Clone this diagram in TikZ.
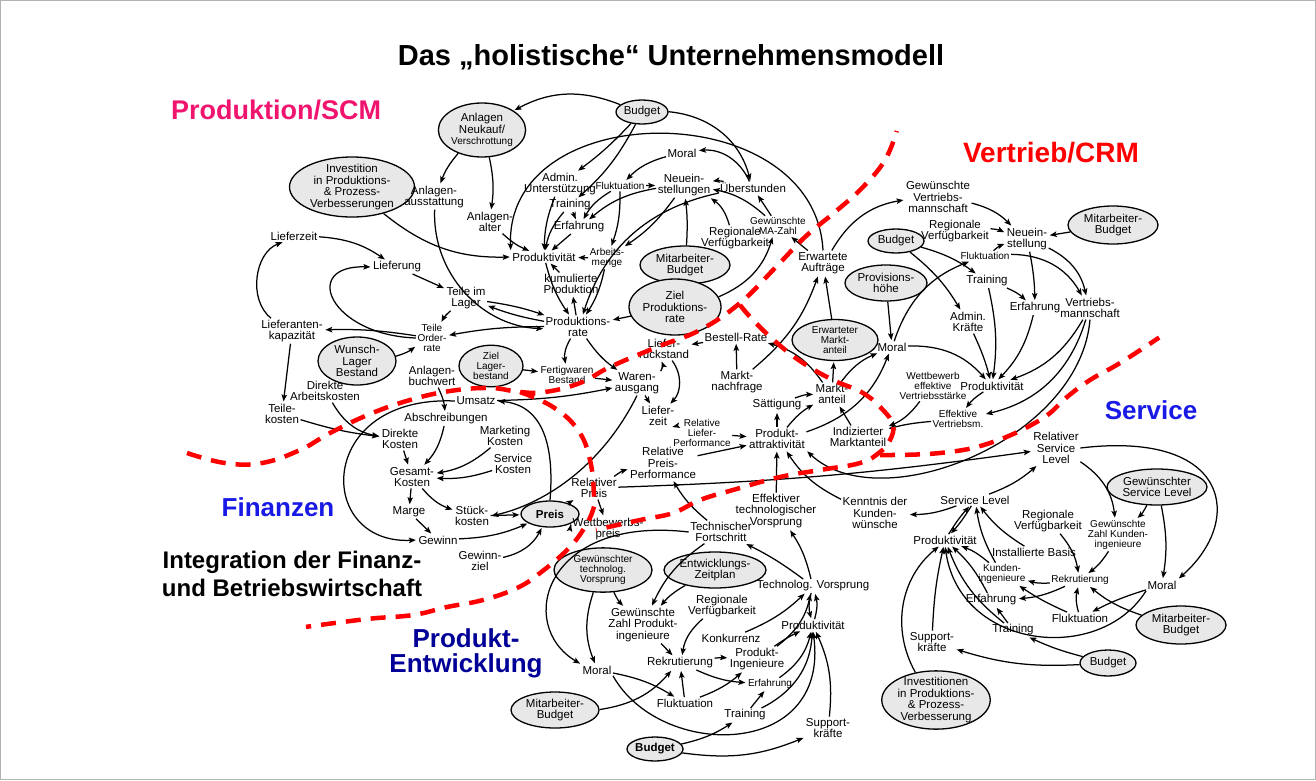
\documentclass[tikz,border=0pt]{standalone}
\usepackage{fontspec}
\setmainfont{Liberation Sans}
\usetikzlibrary{arrows,arrows.meta,shapes.geometric}

\definecolor{prodpink}{RGB}{240,20,110}
\definecolor{vertred}{RGB}{255,0,0}
\definecolor{servblue}{RGB}{25,25,230}
\definecolor{entwblue}{RGB}{0,0,150}

\tikzset{
  var/.style={font=\fontsize{11.5}{11.5}\selectfont, align=center, inner sep=1pt},
  smallvar/.style={var, font=\fontsize{10}{10}\selectfont},
  exo/.style={var, ellipse, draw, fill=black!9, line width=1.3pt, inner xsep=0pt, inner ysep=-2pt},
  area/.style={font=\fontsize{26}{27}\selectfont\bfseries, align=center},
  boundary/.style={vertred, line width=4.5pt, dash pattern=on 15pt off 10pt},
}

\begin{document}
\begin{tikzpicture}[x=1pt, y=-1pt, >={Stealth[length=7pt, width=5.5pt, inset=1.5pt]}, shorten >=1pt, line width=1.25pt]
    \useasboundingbox (0,0) rectangle (1316,780);
    \draw [gray!60, line width=1pt] (0.5,0.5) rectangle (1315.5,779.5);

    % Headings
    \node [font=\fontsize{29}{30}\selectfont\bfseries] (title) at (671,57) {Das „holistische“ Unternehmensmodell};
    \node [area, text=prodpink, font=\fontsize{27}{28}\selectfont\bfseries] (aProd) at (276,110) {Produktion/SCM};
    \node [area, text=vertred, font=\fontsize{28}{29}\selectfont\bfseries]  (aVert) at (1051,153) {Vertrieb/CRM};
    \node [area, text=servblue] (aServ) at (1151,410) {Service};
    \node [area, text=servblue] (aFin)  at (278,507)  {Finanzen};
    \node [area, font=\fontsize{24}{28}\selectfont\bfseries] (aInt) at (292,574) {Integration der Finanz-\\und Betriebswirtschaft};
    \node [area, text=entwblue, font=\fontsize{26}{25}\selectfont\bfseries] (aEntw) at (466,653) {Produkt-\\Entwicklung};

    % Nodes Produktion/SCM
    \node [exo, minimum width=52, minimum height=24]  (pBudget)    at (642,112) {Budget};
    \node [exo, minimum width=80, minimum height=54]  (pNeukauf)   at (482,130) {Anlagen\\Neukauf/\\{\fontsize{10}{10}\selectfont Verschrottung}};
    \node [exo, minimum width=125, minimum height=60] (pInvest)    at (352,187) {Investition\\in Produktions-\\\& Prozess-\\Verbesserungen};
    \node [var]       (pAusst)     at (434,197) {Anlagen-\\ausstattung};
    \node [var]       (pAlter)     at (490,222) {Anlagen-\\alter};
    \node [var]       (pAdmin)     at (560,184) {Admin.\\Unterstützung};
    \node [var]       (pTrain)     at (570,205) {Training};
    \node [var]       (pErf)       at (579,227) {Erfahrung};
    \node [var]       (pMoral)     at (682,153) {Moral};
    \node [smallvar]  (pFluk)      at (620,186) {Fluktuation};
    \node [var]       (pNeu)       at (684,185) {Neuein-\\stellungen};
    \node [var]       (pUeber)     at (753,188) {Überstunden};
    \node [smallvar]  (pMAZahl)    at (778,226) {Gewünschte\\MA-Zahl};
    \node [var]       (pRegV)      at (735,238) {Regionale\\Verfügbarkeit};
    \node [var]       (pProd)      at (544,257) {Produktivität};
    \node [smallvar]  (pArbM)      at (607,258) {Arbeits-\\menge};
    \node [var]       (pKum)       at (571,284) {kumulierte\\Produktion};
    \node [exo, minimum width=90, minimum height=38]  (pMABud)     at (685,265) {Mitarbeiter-\\Budget};
    \node [exo, minimum width=92, minimum height=56]  (pZiel)      at (675,307) {Ziel\\Produktions-\\rate};
    \node [var]       (pErwAuf)    at (823,263) {Erwartete\\Aufträge};
    \node [var]       (pLieferzeit) at (294,236) {Lieferzeit};
    \node [var]       (pLieferung) at (397,267) {Lieferung};
    \node [var]       (pTeileL)    at (466,298) {Teile im\\Lager};
    \node [var]       (pProdRate)  at (578,327) {Produktions-\\rate};
    \node [var]       (pLiefKap)   at (292,331) {Lieferanten-\\kapazität};
    \node [smallvar]  (pTeileOR)   at (432,338) {Teile\\Order-\\rate};
    \node [exo, minimum width=78, minimum height=48]  (pWunsch)    at (357,361) {Wunsch-\\Lager\\Bestand};
    \node [exo, smallvar, minimum width=64, minimum height=34] (pZielLager) at (491,366) {Ziel\\Lager-\\bestand};
    \node [smallvar]  (pFertig)    at (567,375) {Fertigwaren\\Bestand};
    \node [var]       (pLiefRueck) at (664,349) {Liefer-\\rückstand};
    \node [var]       (pBestell)   at (736,337) {Bestell-Rate};
    \node [var]       (pWaren)     at (637,383) {Waren-\\ausgang};

    % Nodes Finanzen
    \node [var]       (pAnlBuch)   at (432,376) {Anlagen-\\buchwert};
    \node [var]       (pDirArb)    at (325,391) {Direkte\\Arbeitskosten};
    \node [var]       (pTeileK)    at (282,414) {Teile-\\kosten};
    \node [var]       (pUmsatz)    at (476,401) {Umsatz};
    \node [var]       (pAbschr)    at (446,419) {Abschreibungen};
    \node [var]       (pMarkK)     at (505,436) {Marketing\\Kosten};
    \node [var]       (pDirK)      at (400,439) {Direkte\\Kosten};
    \node [var]       (pServK)     at (513,464) {Service\\Kosten};
    \node [var]       (pGesK)      at (412,477) {Gesamt-\\Kosten};
    \node [var]       (pMarge)     at (409,512) {Marge};
    \node [var]       (pGewinn)    at (438,540) {Gewinn};
    \node [var]       (pStueck)    at (472,516) {Stück-\\kosten};
    \node [exo, font=\fontsize{11.5}{11.5}\selectfont\bfseries, minimum width=58, minimum height=26] (pPreis) at (550,514) {Preis};
    \node [var]       (pGZiel)     at (480,561) {Gewinn-\\ziel};

    % Nodes Markt
    \node [var]       (pLiefZeit2) at (658,416) {Liefer-\\zeit};
    \node [smallvar]  (pRelLief)   at (702,433) {Relative\\Liefer-\\Performance};
    \node [var]       (pRelPP)     at (663,463) {Relative\\Preis-\\Performance};
    \node [var]       (pRelPreis)  at (594,488) {Relativer\\Preis};
    \node [var]       (pWettPreis) at (608,529) {Wettbewerbs-\\preis};
    \node [var]       (pMNach)     at (737,382) {Markt-\\nachfrage};
    \node [exo, smallvar, minimum width=86, minimum height=36] (pErwMA) at (835,340) {Erwarteter\\Markt-\\anteil};
    \node [var]       (pMAnteil)   at (832,394) {Markt-\\anteil};
    \node [var]       (pSaett)     at (777,405) {Sättigung};
    \node [var]       (pPAttr)     at (777,439) {Produkt-\\attraktivität};
    \node [var]       (pIndiz)     at (858,437) {Indizierter\\Marktanteil};

    % Nodes Vertrieb/CRM
    \node [var]       (pMoralV)    at (892,347) {Moral};
    \node [smallvar]  (pWettbew)   at (933,386) {Wettbewerb\\effektive\\Vertriebsstärke};
    \node [var]       (pProdV)     at (992,386) {Produktivität};
    \node [smallvar]  (pEffV)      at (958,419) {Effektive\\Vertriebsm.};
    \node [var]       (pAdminK)    at (968,322) {Admin.\\Kräfte};
    \node [exo, minimum width=82, minimum height=36] (pProv) at (886,283) {Provisions-\\höhe};
    \node [exo, minimum width=56, minimum height=24] (pBudV) at (896,241) {Budget};
    \node [var]       (pGewVM)     at (938,197) {Gewünschte\\Vertriebs-\\mannschaft};
    \node [var]       (pRegVV)     at (955,231) {Regionale\\Verfügbarkeit};
    \node [smallvar]  (pFlukV)     at (985,256) {Fluktuation};
    \node [var]       (pTrainV)    at (987,281) {Training};
    \node [var]       (pNeuV)      at (1027,239) {Neuein-\\stellung};
    \node [exo, minimum width=90, minimum height=38] (pMABudV) at (1113,225) {Mitarbeiter-\\Budget};
    \node [var]       (pErfV)      at (1035,308) {Erfahrung};
    \node [var]       (pVMann)     at (1090,308) {Vertriebs-\\mannschaft};

    % Nodes Service
    \node [var]       (pRelSL)     at (1056,448) {Relativer\\Service\\Level};
    \node [exo, minimum width=100, minimum height=36] (pGewSL) at (1157,487) {Gewünschter\\Service Level};
    \node [var]       (pSL)        at (975,500) {Service Level};
    \node [var]       (pKennt)     at (875,513) {Kenntnis der\\Kunden-\\wünsche};
    \node [var]       (pRegVS)     at (1048,521) {Regionale\\Verfügbarkeit};
    \node [smallvar]  (pGewZKI)    at (1118,535) {Gewünschte\\Zahl Kunden-\\ingenieure};
    \node [var]       (pProdS)     at (945,540) {Produktivität};
    \node [var]       (pInstB)     at (1034,552) {Installierte Basis};
    \node [smallvar]  (pKI)        at (1002,574) {Kunden-\\ingenieure};
    \node [smallvar]  (pRekS)      at (1080,580) {Rekrutierung};
    \node [var]       (pMoralS)    at (1162,585) {Moral};
    \node [var]       (pErfS)      at (991,600) {Erfahrung};
    \node [var]       (pFlukS)     at (1080,618) {Fluktuation};
    \node [exo, minimum width=90, minimum height=38] (pMABudS) at (1181,625) {Mitarbeiter-\\Budget};
    \node [var]       (pTrainS)    at (1013,630) {Training};
    \node [var]       (pSuppS)     at (932,642) {Support-\\kräfte};
    \node [exo, minimum width=56, minimum height=26] (pBudS) at (1108,663) {Budget};
    \node [exo, minimum width=104, minimum height=58] (pInvS) at (936,700) {Investitionen\\in Produktions-\\\& Prozess-\\Verbesserung};

    % Nodes Produkt-Entwicklung
    \node [var]       (pEffTech)   at (776,511) {Effektiver\\technologischer\\Vorsprung};
    \node [var]       (pTechF)     at (721,532) {Technischer\\Fortschritt};
    \node [exo, smallvar, minimum width=98, minimum height=38] (pGewTech) at (603,570) {Gewünschter\\technolog.\\Vorsprung};
    \node [exo, minimum width=102, minimum height=36] (pEntw) at (715,570) {Entwicklungs-\\Zeitplan};
    \node [var]       (pTechV)     at (813,586) {Technolog. Vorsprung};
    \node [var]       (pGewZPI)    at (643,625) {Gewünschte\\Zahl Produkt-\\ingenieure};
    \node [var]       (pRegVP)     at (722,606) {Regionale\\Verfügbarkeit};
    \node [var]       (pKonk)      at (731,638) {Konkurrenz};
    \node [var]       (pProdP)     at (813,625) {Produktivität};
    \node [var]       (pPIng)      at (757,659) {Produkt-\\Ingenieure};
    \node [var]       (pMoralP)    at (597,670) {Moral};
    \node [var]       (pRekP)      at (680,663) {Rekrutierung};
    \node [smallvar]  (pErfP)      at (770,684) {Erfahrung};
    \node [exo, minimum width=88, minimum height=36] (pMABudP) at (555,710) {Mitarbeiter-\\Budget};
    \node [var]       (pFlukP)     at (685,703) {Fluktuation};
    \node [var]       (pTrainP)    at (745,715) {Training};
    \node [var]       (pSuppP)     at (828,728) {Support-\\kräfte};
    \node [exo, font=\fontsize{11.5}{11.5}\selectfont\bfseries, minimum width=56, minimum height=24] (pBudP) at (655,749) {Budget};

    % Paths Produktion/SCM
    \path [->] (pBudget)    edge [bend right=25] (pNeukauf);
    \path [->] (pBudget)    edge [bend left=5]   (pAdmin);
    \path [->] (pBudget)    edge [bend left=10]  (pTrain);
    \path [->] (pBudget)    edge [bend left=35]  (pUeber);
    \draw [->] (pErwAuf.north) .. controls (815,95) and (505,95) .. (pProd.north west);
    \path [->] (pUeber)     edge [bend right=35] (pMoral);
    \path [->] (pUeber)     edge [bend right=10] (pNeu);
    \path [->] (pUeber)     edge [bend right=30] (pProdRate);
    \path [->] (pNeu)       edge [bend right=15] (pErf);
    \path [->] (pNeu)       edge [bend left=10]  (pArbM);
    \path [->] (pFluk)      edge                 (pNeu);
    \path [->] (pFluk)      edge [bend right=15] (pErf);
    \path [->] (pFluk)      edge [bend left=10]  (pArbM);
    \path [->] (pMoral)     edge [bend right=15] (pFluk);
    \path [->] (pTrain)     edge                 (pErf);
    \path [->] (pAdmin)     edge [bend right=10] (pProd);
    \path [->] (pTrain)     edge [bend right=15] (pProd);
    \path [->] (pErf)       edge                 (pProd);
    \path [->] (pArbM)      edge                 (pProd);
    \path [->] (pAlter)     edge [bend right=10] (pProd);
    \path [->] (pNeukauf)   edge [bend right=10] (pAusst);
    \path [->] (pNeukauf)   edge [bend left=10]  (pAlter);
    \path [->] (pInvest)    edge [bend right=20] (pProd);
    \path [->] (pAusst)     edge [bend right=45] (pProdRate);
    \path [->] (pProd)      edge [bend right=10] (pProdRate);
    \path [->] (pProdRate)  edge                 (pKum);
    \path [->] (pKum)       edge                 (pProd);
    \path [->] (pArbM)      edge [bend left=10]  (pProdRate);
    \path [->] (pZiel)      edge                 (pProdRate);
    \path [->] (pMABud)     edge [bend right=5]  (pNeu);
    \path [->] (pRegV)      edge [bend right=20] (pNeu);
    \path [->] (pMAZahl)    edge                 (pUeber);
    \path [->] (pMAZahl)    edge [bend right=15] (pNeu);
    \path [->] (pErwAuf)    edge                 (pMAZahl);
    \path [->] (pZiel)      edge [bend right=25] (pMAZahl);
    \path [->] (pLieferzeit) edge [bend left=15] (pLieferung);
    \path [->] (pLiefKap)   edge [bend left=60]  (pLieferzeit);
    \draw [->] (pTeileOR.west) .. controls (330,335) and (300,265) .. (pLieferung.west);
    \path [->] (pLieferung) edge                 (pTeileL);
    \path [->] (pTeileL)    edge [bend right=10] (pTeileOR);
    \path [->] (pTeileL)    edge [bend left=5]   (pProdRate);
    \path [->] (pProdRate)  edge [bend left=5]   (pTeileL);
    \path [->] (pProdRate)  edge [bend right=5]  (pTeileOR);
    \path [->] (pTeileOR)   edge [bend right=5]  (pLiefKap);
    \path [->] (pWunsch)    edge [bend right=10] (pTeileOR);
    \path [->] (pLiefKap)   edge                 (pTeileK);
    \path [->] (pProdRate)  edge [bend right=20] (pFertig);
    \path [->] (pProdRate)  edge [bend right=10] (pWaren);
    \path [->] (pZielLager) edge                 (pFertig);
    \path [->] (pFertig)    edge                 (pWaren);
    \path [->] (pWaren)     edge [bend right=25] (pLiefRueck);
    \path [->] (pWaren)     edge                 (pLiefZeit2);
    \path [->] (pLiefRueck) edge [bend left=40]  (pLiefZeit2);
    \path [->] (pBestell)   edge                 (pLiefRueck);

    % Paths Finanzen
    \path [->] (pTeileK)    edge [bend right=5]  (pDirK);
    \path [->] (pDirArb)    edge [bend right=25] (pDirK);
    \path [->] (pAnlBuch)   edge [bend left=10]  (pAbschr);
    \path [->] (pAbschr)    edge [bend left=15]  (pGesK);
    \path [->] (pDirK)      edge                 (pGesK);
    \path [->] (pMarkK)     edge [bend left=15]  (pGesK);
    \path [->] (pServK)     edge [bend left=10]  (pGesK);
    \path [->] (pGesK)      edge                 (pMarge);
    \path [->] (pGesK)      edge [bend right=15] (pStueck);
    \path [->] (pMarge)     edge                 (pGewinn);
    \draw [->] (pUmsatz.west) .. controls (315,395) and (315,545) .. (pGewinn.west);
    \path [->] (pGewinn)    edge [bend right=10] (pPreis);
    \path [->] (pStueck)    edge                 (pPreis);
    \path [->] (pGZiel)     edge [bend right=25] (pPreis);
    \draw [->] (pPreis.north) .. controls (555,440) and (540,405) .. (pUmsatz.east);
    \draw [->] (pWaren.south) .. controls (600,470) and (540,505) .. (pStueck.east);
    \path [->] (pUmsatz)    edge [bend right=5]  (pWaren);

    % Paths Markt
    \path [->] (pMNach)     edge                 (pBestell);
    \path [->] (pMAnteil)   edge [bend right=20] (pBestell);
    \path [->] (pMNach)     edge [bend right=15] (pErwAuf);
    \path [->] (pErwMA)     edge                 (pErwAuf);
    \path [->] (pMAnteil)   edge                 (pErwMA);
    \path [->] (pMAnteil)   edge [bend left=15]  (pMoralV);
    \path [->] (pSaett)     edge [bend left=10]  (pMAnteil);
    \path [->] (pPAttr)     edge                 (pSaett);
    \path [->] (pPAttr)     edge [bend left=10]  (pMAnteil);
    \path [->] (pPAttr)     edge [bend right=25] (pMoralV);
    \path [->] (pIndiz)     edge                 (pMAnteil);
    \path [->] (pPreis)     edge                 (pRelPreis);
    \path [->] (pWettPreis) edge [dashed, bend left=10] (pPreis);
    \path [->] (pRelPreis)  edge                 (pWettPreis);
    \path [->] (pRelPreis)  edge [bend left=10]  (pRelPP);
    \path [->] (pRelPP)     edge                 (pPAttr);
    \path [->] (pRelLief)   edge                 (pPAttr);
    \path [->] (pLiefZeit2) edge [bend right=10] (pRelLief);
    \path [->] (pRelPreis)  edge [bend right=3]  (pRelSL);

    % Paths Vertrieb/CRM
    \path [->] (pMoralV)    edge [bend left=25]  (pProdV);
    \path [->] (pWettbew)   edge [bend left=15]  (pIndiz);
    \path [->] (pEffV)      edge [bend right=5]  (pIndiz);
    \path [->] (pProdV)     edge [bend right=10] (pEffV);
    \path [->] (pVMann)     edge [bend left=30]  (pEffV);
    \draw [->] (pVMann.south) .. controls (1080,440) and (880,520) .. (pPAttr.south east);
    \path [->] (pAdminK)    edge [bend left=5]   (pProdV);
    \path [->] (pErfV)      edge [bend left=15]  (pProdV);
    \path [->] (pVMann)     edge [bend left=20]  (pProdV);
    \path [->] (pTrainV)    edge [bend left=10]  (pProdV);
    \path [->] (pNeuV)      edge [bend left=25]  (pVMann);
    \path [->] (pNeuV)      edge [bend left=5]   (pErfV);
    \path [->] (pFlukV)     edge [bend left=30]  (pVMann);
    \path [->] (pFlukV)     edge [bend left=10]  (pNeuV);
    \path [->] (pTrainV)    edge [bend left=10]  (pErfV);
    \path [->] (pGewVM)     edge [bend left=15]  (pNeuV);
    \path [->] (pRegVV)     edge [bend left=10]  (pNeuV);
    \path [->] (pMABudV)    edge                 (pNeuV);
    \path [->] (pErwAuf)    edge [bend left=25]  (pGewVM);
    \path [->] (pBudV)      edge [bend left=10]  (pTrainV);
    \path [->] (pBudV)      edge [bend left=10]  (pAdminK);
    \path [->] (pProv)      edge                 (pMoralV);
    \path [->] (pMoralV)    edge [bend left=25]  (pFlukV);

    % Paths Service
    \path [->] (pSL)        edge [bend left=10]  (pKennt);
    \path [->] (pKennt)     edge [bend left=15]  (pPAttr);
    \path [->] (pSL)        edge [bend right=10] (pRelSL);
    \path [->] (pRelSL)     edge [bend left=25]  (pGewZKI);
    \draw [->] (pRelSL.east) .. controls (1230,430) and (1245,520) .. (pMoralS.north east);
    \path [->] (pGewSL)     edge [bend left=10]  (pGewZKI);
    \path [->] (pGewSL)     edge [bend left=10]  (pMoralS);
    \path [->] (pGewZKI)    edge [bend left=10]  (pRekS);
    \path [->] (pRegVS)     edge [bend left=15]  (pRekS);
    \path [->] (pRekS)      edge [bend left=10]  (pKI);
    \path [->] (pRekS)      edge [bend left=10]  (pErfS);
    \path [->] (pFlukS)     edge [bend left=5]   (pKI);
    \path [->] (pFlukS)     edge [bend left=15]  (pRekS);
    \path [->] (pMoralS)    edge [bend right=5]  (pFlukS);
    \path [->] (pMABudS)    edge [bend left=10]  (pRekS);
    \draw [->] (pMoralS.south west) .. controls (1100,665) and (960,650) .. (pProdS.south);
    \path [->] (pTrainS)    edge                 (pErfS);
    \path [->] (pBudS)      edge [bend left=5]   (pTrainS);
    \path [->] (pBudS)      edge [bend left=10]  (pSuppS);
    \path [->] (pSuppS)     edge [bend left=5]   (pProdS);
    \path [->] (pInvS)      edge [bend left=40]  (pProdS);
    \path [->] (pKI)        edge [bend right=10] (pProdS);
    \path [->] (pErfS)      edge [bend right=10] (pProdS);
    \path [->] (pTrainS)    edge [bend left=15]  (pProdS);
    \path [->] (pProdS)     edge [bend left=5]   (pSL);
    \path [->] (pSL)        edge [bend left=5]   (pProdS);
    \path [->] (pKI)        edge [bend left=10]  (pSL);
    \path [->] (pInstB)     edge [bend left=10]  (pSL);

    % Paths Produkt-Entwicklung
    \draw [->] (pTechF.west) .. controls (545,515) and (515,625) .. (pMoralP.north west);
    \path [->] (pTechF)     edge [bend right=15] (pGewZPI);
    \path [->] (pEntw)      edge [bend right=10] (pGewZPI);
    \path [->] (pGewTech)   edge [bend right=10] (pGewZPI);
    \path [->] (pGewTech)   edge [bend right=20] (pMoralP);
    \path [->] (pGewZPI)    edge                 (pRekP);
    \path [->] (pRegVP)     edge [bend right=20] (pRekP);
    \path [->] (pRekP)      edge [bend left=5]   (pPIng);
    \path [->] (pRekP)      edge [bend right=10] (pErfP);
    \path [->] (pFlukP)     edge                 (pRekP);
    \path [->] (pFlukP)     edge [bend right=10] (pPIng);
    \path [->] (pMoralP)    edge [bend left=10]  (pFlukP);
    \draw [->] (pMoralP.south east) .. controls (660,760) and (830,760) .. (pProdP.south);
    \path [->] (pBudP)      edge [bend right=10] (pTrainP);
    \path [->] (pBudP)      edge [bend right=15] (pSuppP);
    \path [->] (pMABudP)    edge [bend right=20] (pRekP);
    \path [->] (pTrainP)    edge                 (pErfP);
    \path [->] (pPIng)      edge [bend left=5]   (pProdP);
    \path [->] (pErfP)      edge [bend right=20] (pProdP);
    \path [->] (pTrainP)    edge [bend right=30] (pProdP);
    \path [->] (pSuppP)     edge [bend right=15] (pProdP);
    \path [->] (pKonk)      edge [bend right=10] (pTechV);
    \path [->] (pPIng)      edge [bend right=20] (pTechV);
    \path [->] (pProdP)     edge [bend right=15] (pTechV);
    \path [->] (pTechV)     edge [bend right=15] (pProdP);
    \path [->] (pTechV)     edge [bend right=5]  (pTechF);
    \path [->] (pTechV)     edge [bend right=10] (pEffTech);
    \path [->] (pEffTech)   edge                 (pPAttr);
    \path [->] (pTechF)     edge [bend left=10]  (pRelPP);

    % Bereichsgrenzen
    \draw [boundary] plot [smooth, tension=0.7] coordinates {(187,453) (225,463) (262,463) (300,450) (330,433) (370,414) (410,400) (450,391) (490,388) (520,392) (545,392) (580,383) (610,367) (657,347) (700,330) (740,303) (775,268) (805,237) (835,212) (862,188) (885,160) (897,130)};
    \draw [boundary] plot [smooth, tension=0.7] coordinates {(520,392) (553,407) (578,430) (590,460) (594,495) (593,510) (583,530) (567,550) (540,573) (517,588) (483,600) (447,607) (413,615) (367,619) (305,627)};
    \draw [boundary] plot [smooth, tension=0.7] coordinates {(740,305) (753,320) (777,343) (803,363) (833,380) (863,393) (883,410) (893,425) (890,440) (880,452) (860,463) (820,470) (780,477) (733,490) (700,500) (673,513) (640,520) (595,530)};
    \draw [boundary] plot [smooth, tension=0.7] coordinates {(880,455) (940,453) (990,443) (1040,420) (1067,397) (1090,380) (1120,363) (1160,337)};
\end{tikzpicture}
\end{document}
